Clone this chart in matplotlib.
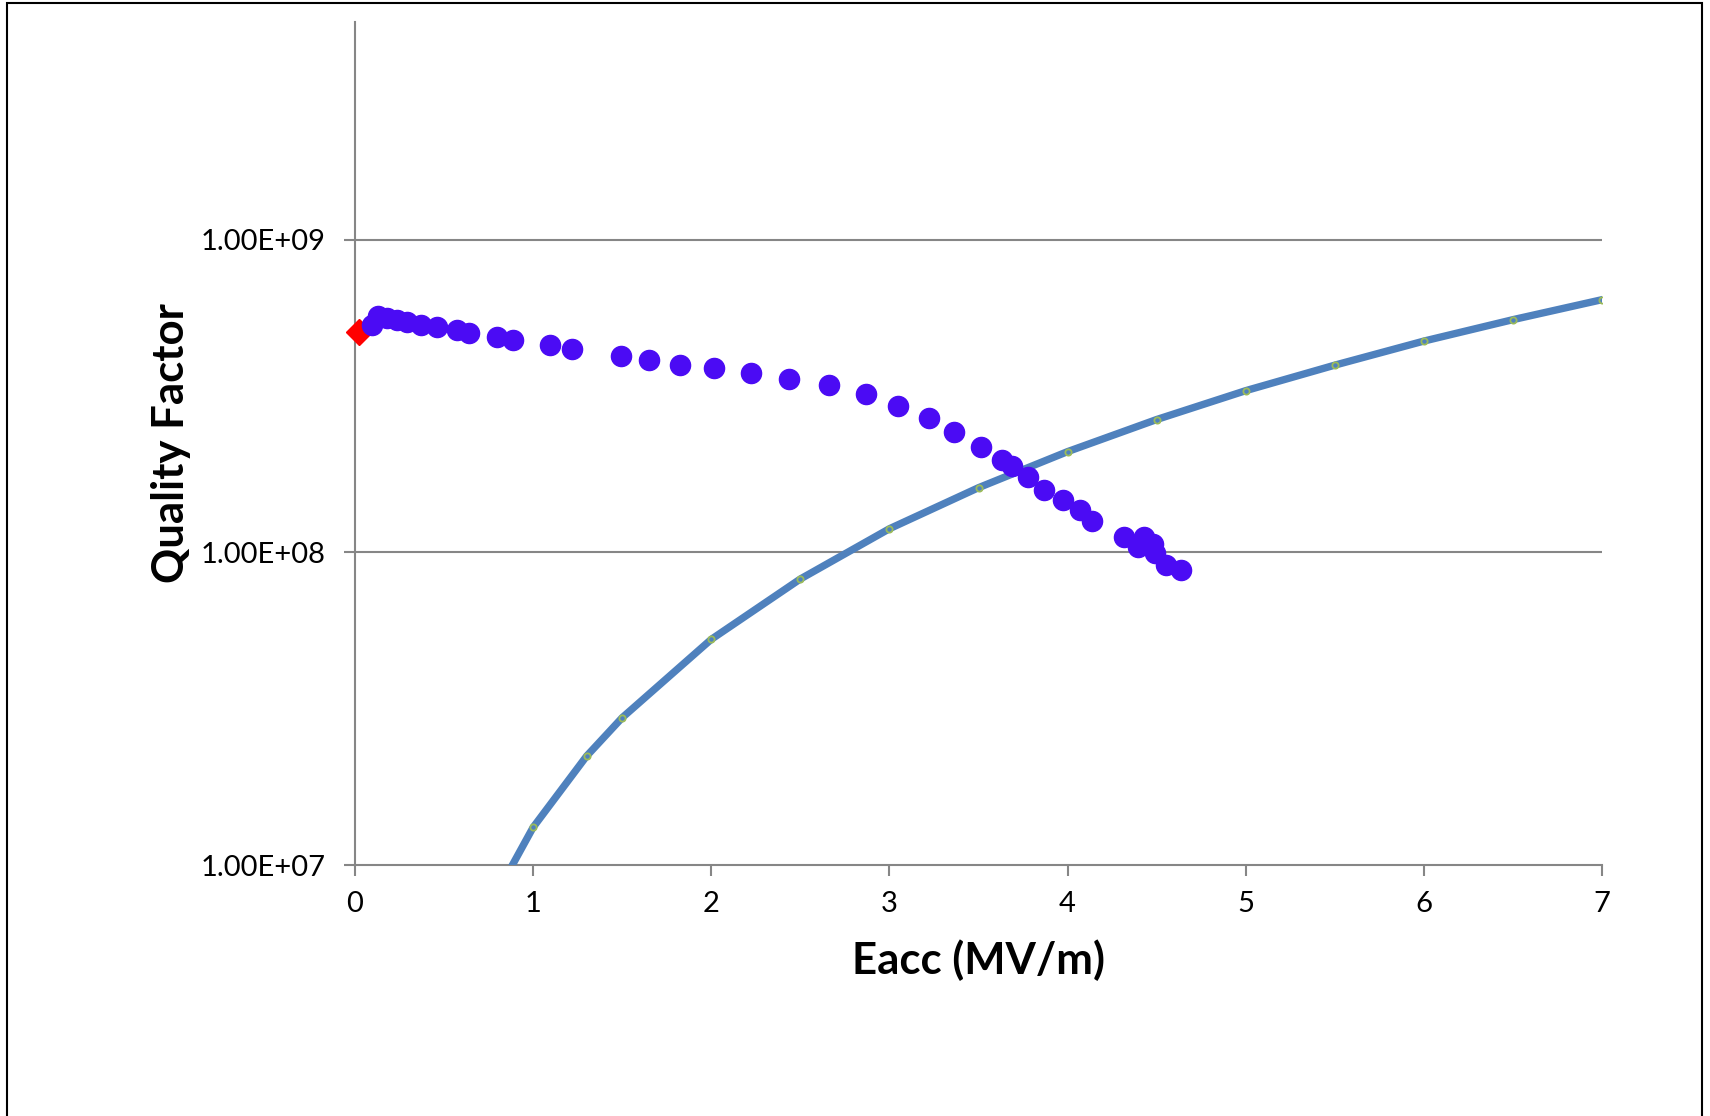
import matplotlib.pyplot as plt
from matplotlib.patches import Rectangle

# measured points (Eacc in MV/m, Q0)
eacc_meas = [0.097, 0.131, 0.181, 0.234, 0.294, 0.369, 0.459, 0.574, 0.640, 0.795,
             0.885, 1.095, 1.220, 1.493, 1.650, 1.824, 2.017, 2.223, 2.436, 2.663,
             2.869, 3.050, 3.222, 3.364, 3.512, 3.630, 3.688, 3.780, 3.868, 3.973,
             4.070, 4.139, 4.317, 4.397, 4.431, 4.481, 4.491, 4.551, 4.637]
q_meas = [5.32e8, 5.71e8, 5.61e8, 5.52e8, 5.44e8, 5.35e8, 5.26e8, 5.13e8, 5.03e8, 4.88e8,
          4.78e8, 4.59e8, 4.48e8, 4.24e8, 4.12e8, 3.98e8, 3.88e8, 3.75e8, 3.59e8, 3.44e8,
          3.21e8, 2.94e8, 2.69e8, 2.43e8, 2.18e8, 1.97e8, 1.89e8, 1.74e8, 1.58e8, 1.47e8,
          1.37e8, 1.26e8, 1.12e8, 1.04e8, 1.12e8, 1.06e8, 9.94e7, 9.12e7, 8.79e7]

# low field point
eacc_low = [0.02]
q_low = [5.05e8]

# limit curve
eacc_lim = [0.5, 1.0, 1.3, 1.5, 2.0, 2.5, 3.0, 3.5, 4.0, 4.5, 5.0, 5.5, 6.0, 6.5, 7.0]
q_lim = [4.0e6, 1.32e7, 2.23e7, 2.96e7, 5.27e7, 8.22e7, 1.19e8, 1.61e8, 2.10e8, 2.66e8,
         3.29e8, 3.97e8, 4.74e8, 5.55e8, 6.43e8]

xticks = [0, 1, 2, 3, 4, 5, 6, 7]
yticks = [1e7, 1e8, 1e9]
ytick_labels = ['1.00E+07', '1.00E+08', '1.00E+09']

plt.rcParams['font.family'] = ['Lato', 'DejaVu Sans']
gray = '#868686'

fig = plt.figure(figsize=(17.1, 11.16), dpi=100)
ax = fig.add_axes([355 / 1710, 251 / 1116, 1247 / 1710, 843 / 1116])

ax.plot(eacc_lim, q_lim, color='#4F81BD', lw=5.3, marker='o', ms=4.5,
        mfc='none', mec='#9BBB59', mew=1.3, zorder=3)
ax.plot(eacc_low, q_low, linestyle='none', marker='D', ms=13,
        color='#FF0000', clip_on=False, zorder=4)
ax.plot(eacc_meas, q_meas, linestyle='none', marker='o', ms=14.5,
        color='#4B0BF4', clip_on=False, zorder=5)

ax.set_yscale('log')
ax.set_xlim(0, 7)
ax.set_ylim(1e7, 4.97e9)
ax.set_xticks(xticks)
ax.set_xticklabels([str(v) for v in xticks])
ax.set_yticks(yticks)
ax.set_yticklabels(ytick_labels)
ax.minorticks_off()

# gridlines only at the labelled decades
for v in yticks[1:]:
    ax.axhline(v, color=gray, lw=1.5, zorder=1)

for s in ['top', 'right']:
    ax.spines[s].set_visible(False)
for s in ['left', 'bottom']:
    ax.spines[s].set_color(gray)
    ax.spines[s].set_linewidth(1.5)

ax.tick_params(axis='both', direction='out', length=8, width=1.5, color=gray,
               labelsize=21, labelcolor='black')
ax.tick_params(axis='x', pad=11)
ax.tick_params(axis='y', pad=13)

ax.set_xlabel('Eacc (MV/m)', fontsize=31.5, fontweight='bold', labelpad=16)
ax.set_ylabel('Quality Factor', fontsize=31.5, fontweight='bold', labelpad=7)

# outer chart border
fig.patches.append(Rectangle((7 / 1710, -0.02), 1695 / 1710, 1.02 - 3 / 1116,
                             transform=fig.transFigure, fill=False,
                             edgecolor='black', lw=1.5))

fig.savefig('out.png', dpi=100)
